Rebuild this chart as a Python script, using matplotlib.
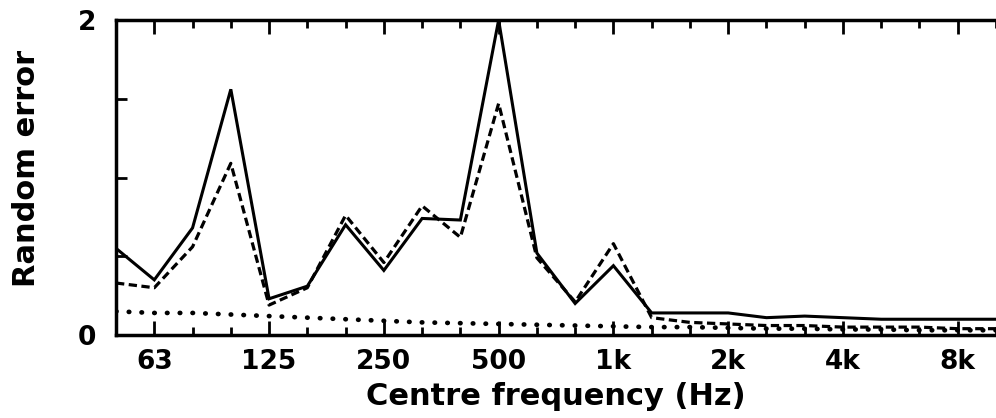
import matplotlib.pyplot as plt

# third-octave bands, 50 Hz .. 10 kHz
bands = [50, 63, 80, 100, 125, 160, 200, 250, 315, 400, 500, 630, 800,
         1000, 1250, 1600, 2000, 2500, 3150, 4000, 5000, 6300, 8000, 10000]
solid = [0.55, 0.35, 0.68, 1.56, 0.23, 0.31, 0.70, 0.41, 0.74, 0.73, 2.0, 0.52,
         0.20, 0.44, 0.14, 0.14, 0.14, 0.11, 0.12, 0.11, 0.10, 0.10, 0.10, 0.10]
dashed = [0.33, 0.30, 0.56, 1.09, 0.19, 0.30, 0.76, 0.46, 0.82, 0.62, 1.47, 0.49,
          0.21, 0.58, 0.11, 0.08, 0.07, 0.06, 0.06, 0.05, 0.05, 0.05, 0.04, 0.04]
dotted = [0.15, 0.14, 0.14, 0.13, 0.12, 0.11, 0.10, 0.09, 0.08, 0.075, 0.07, 0.065,
          0.06, 0.055, 0.05, 0.05, 0.045, 0.04, 0.04, 0.035, 0.035, 0.03, 0.03, 0.03]
tick_labels = ['63', '125', '250', '500', '1k', '2k', '4k', '8k']
tick_freqs = [63, 125, 250, 500, 1000, 2000, 4000, 8000]

plt.rcParams['font.family'] = 'DejaVu Sans'
plt.rcParams['font.weight'] = 'bold'

fig = plt.figure(figsize=(9.96, 4.18), dpi=100)
ax = fig.add_axes([0.1165, 0.1986, 0.8835, 0.7535])

x = list(range(len(bands)))
ax.plot(x, solid, color='black', lw=2.2, solid_joinstyle='miter')
ax.plot(x, dashed, color='black', lw=2.3, linestyle=(0, (2.6, 1.4)))
ax.plot(x, dotted, color='black', lw=3.4, linestyle=(0, (0.1, 2.6)),
        dash_capstyle='round')

ax.set_xlim(0, 22.8)
ax.set_ylim(0, 2)

ax.set_xticks([bands.index(f) for f in tick_freqs])
ax.set_xticklabels(tick_labels)
ax.set_xticks(x, minor=True)
ax.set_yticks([0, 2])
ax.set_yticks([0.5, 1.0, 1.5], minor=True)

ax.tick_params(axis='x', which='major', direction='in', top=True, length=10,
               width=2, labelsize=19, pad=10)
ax.tick_params(axis='x', which='minor', direction='in', top=True, length=6,
               width=2)
ax.tick_params(axis='y', which='major', direction='in', length=0,
               labelsize=19, pad=14)
ax.tick_params(axis='y', which='minor', direction='in', length=8, width=2)

for s in ['left', 'top', 'bottom']:
    ax.spines[s].set_linewidth(2.5)
ax.spines['right'].set_visible(False)

ax.set_xlabel('Centre frequency (Hz)', fontsize=22, fontweight='bold', labelpad=5)
ax.set_ylabel('Random error', fontsize=22, fontweight='bold')
ax.yaxis.set_label_coords(-0.085, 0.53)

fig.savefig('out.png', dpi=100)
